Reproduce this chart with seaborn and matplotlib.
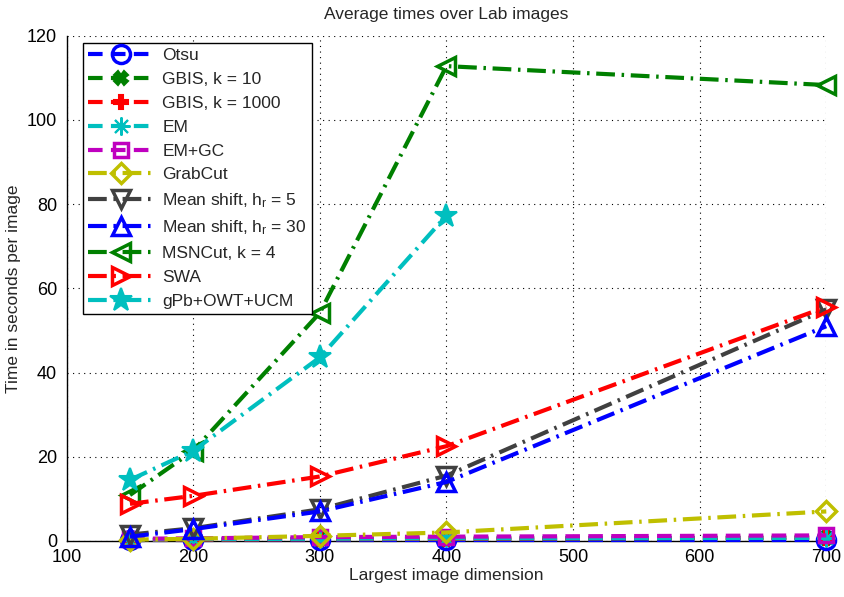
import matplotlib
matplotlib.use("Agg")
import matplotlib.pyplot as plt
import seaborn as sns
import numpy as np

sizes = [150, 200, 300, 400, 700]
sizes_gpb = [150, 200, 300, 400]

otsu = [0.1, 0.1, 0.1, 0.1, 0.1]
gbis10 = [0.2, 0.3, 0.4, 0.5, 0.8]
gbis1000 = [0.2, 0.3, 0.4, 0.5, 0.8]
em = [0.3, 0.4, 0.5, 0.6, 0.7]
emgc = [0.5, 0.6, 0.9, 1.0, 1.3]
grabcut = [0.3, 0.5, 1.2, 2.0, 7.0]
ms5 = [1.5, 3.0, 7.5, 15.5, 55.0]
ms30 = [1.0, 2.8, 7.0, 14.0, 51.0]
msncut = [10.9, 21.4, 54.2, 112.8, 108.3]
swa = [8.8, 10.7, 15.3, 22.5, 55.6]
gpb = [14.5, 21.4, 43.6, 77.3]

labels = ["Otsu", "GBIS, k = 10", "GBIS, k = 1000", "EM", "EM+GC", "GrabCut",
          r"Mean shift, h$_r$ = 5", r"Mean shift, h$_r$ = 30", "MSNCut, k = 4",
          "SWA", "gPb+OWT+UCM"]

sns.set_style("white")
plt.rcParams['font.family'] = ['Liberation Sans', 'DejaVu Sans']
plt.rcParams['mathtext.fontset'] = 'custom'
plt.rcParams['mathtext.rm'] = 'Liberation Sans'
plt.rcParams['mathtext.it'] = 'Liberation Sans'

blue = (0, 0, 1)
green = (0, 0.5, 0)
red = (1, 0, 0)
cyan = (0, 0.75, 0.75)
mag = (0.75, 0, 0.75)
yel = (0.75, 0.75, 0)
gray = (0.25, 0.25, 0.25)

dash = (0, (3.5, 2))
dashdot = (0, (4.5, 1.6, 0.6, 1.6))

series = [
    (sizes, otsu, blue, dash, 'o', False),
    (sizes, gbis10, green, dash, 'X', True),
    (sizes, gbis1000, red, dash, 'P', True),
    (sizes, em, cyan, dash, (8, 2, 0), True),
    (sizes, emgc, mag, dash, 's', False),
    (sizes, grabcut, yel, dashdot, 'D', False),
    (sizes, ms5, gray, dashdot, 'v', False),
    (sizes, ms30, blue, dashdot, '^', False),
    (sizes, msncut, green, dashdot, '<', False),
    (sizes, swa, red, dashdot, '>', False),
    (sizes_gpb, gpb, cyan, dashdot, '*', True),
]

fig = plt.figure(figsize=(8.44, 5.97), dpi=100)
ax = fig.add_axes([0.079, 0.094, 0.9, 0.846])

for (xs, ys, c, ls, m, filled), lab in zip(series, labels):
    ms = 13
    if m == 'D':
        ms = 10
    if m == 's':
        ms = 10
    if m == '*':
        ms = 17
    if m in ('X', 'P'):
        ms = 10
    sns.lineplot(x=xs, y=ys, ax=ax, color=c, linestyle=ls, lw=3, marker=m,
                 markersize=ms, markerfacecolor=(c if filled else 'none'),
                 markeredgecolor=c, markeredgewidth=2.5 if not filled else 1.5,
                 label=lab, clip_on=False, zorder=3)

ax.set_xlim(100, 700)
ax.set_ylim(0, 120)
ax.set_xticks([100, 200, 300, 400, 500, 600, 700])
ax.set_yticks([0, 20, 40, 60, 80, 100, 120])
ax.grid(True, color='black', linestyle=(0, (1, 4)), linewidth=0.8)
ax.set_axisbelow(True)
for s in ['top', 'right']:
    ax.spines[s].set_visible(False)
for s in ['left', 'bottom']:
    ax.spines[s].set_color('black')
    ax.spines[s].set_linewidth(1.0)
ax.tick_params(direction='in', length=4, labelsize=13, colors='black')
ax.tick_params(axis='y', pad=7)
ax.tick_params(axis='x', pad=6)
ax.set_xlabel("Largest image dimension", fontsize=12.5, labelpad=1)
ax.set_ylabel("Time in seconds per image", fontsize=12.5, labelpad=4)
ax.set_title("Average times over Lab images", fontsize=12.5, pad=12)

leg = ax.legend(loc='upper left', bbox_to_anchor=(0.021, 0.986), fontsize=12.5,
                frameon=True, fancybox=False, edgecolor='black', framealpha=1,
                handlelength=3.8, labelspacing=0.5, borderpad=0.3,
                handletextpad=0.5, markerscale=1.0, borderaxespad=0)
leg.get_frame().set_linewidth(1.0)
leg.set_zorder(5)

fig.savefig("out.png", dpi=100)
